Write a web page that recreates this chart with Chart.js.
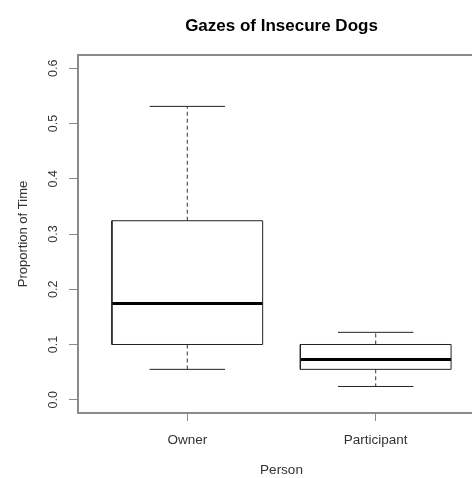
<!DOCTYPE html>
<html>
<head>
<meta charset="utf-8">
<script src="https://cdn.jsdelivr.net/npm/chart.js@4.4.1/dist/chart.umd.min.js"></script>
<style>
  body { margin: 0; background: #fff; }
  #wrap { width: 472px; height: 478px; overflow: hidden; }
  #inner { width: 563px; height: 478px; }
</style>
</head>
<body>
<div id="wrap"><div id="inner"><canvas id="chart"></canvas></div></div>
<script>
// box plot stats
var categories = ['Owner', 'Participant'];
var lowerWhisker = [0.055, 0.024];
var lowerQuartile = [0.100, 0.055];
var medians = [0.174, 0.073];
var upperQuartile = [0.324, 0.100];
var upperWhisker = [0.531, 0.122];
var yTicks = [0, 0.1, 0.2, 0.3, 0.4, 0.5, 0.6];

var boxHalf = 0.4;
var capHalf = 0.2;

function buildPoints() {
  var box = [], med = [], whisk = [], caps = [];
  for (var i = 0; i < categories.length; i++) {
    var x = i + 1;
    box.push({x: x - boxHalf, y: lowerQuartile[i]}, {x: x + boxHalf, y: lowerQuartile[i]},
             {x: x + boxHalf, y: upperQuartile[i]}, {x: x - boxHalf, y: upperQuartile[i]},
             {x: x - boxHalf, y: lowerQuartile[i]}, {x: x, y: null});
    med.push({x: x - boxHalf, y: medians[i]}, {x: x + boxHalf, y: medians[i]}, {x: x, y: null});
    whisk.push({x: x, y: upperQuartile[i]}, {x: x, y: upperWhisker[i]}, {x: x, y: null},
               {x: x, y: lowerQuartile[i]}, {x: x, y: lowerWhisker[i]}, {x: x, y: null});
    caps.push({x: x - capHalf, y: upperWhisker[i]}, {x: x + capHalf, y: upperWhisker[i]}, {x: x, y: null},
              {x: x - capHalf, y: lowerWhisker[i]}, {x: x + capHalf, y: lowerWhisker[i]}, {x: x, y: null});
  }
  return {box: box, med: med, whisk: whisk, caps: caps};
}

var pts = buildPoints();

// frame around plot region like R's bty="o"
var framePlugin = {
  id: 'frame',
  afterDraw: function(chart) {
    var a = chart.chartArea, ctx = chart.ctx;
    ctx.save();
    ctx.strokeStyle = '#8a8a8a';
    ctx.lineWidth = 2;
    ctx.strokeRect(a.left, a.top, a.right - a.left, a.bottom - a.top);
    ctx.restore();
  }
};

var lineDefaults = {showLine: true, pointRadius: 0, spanGaps: false, fill: false};
var font = 'Liberation Sans, Arial';

new Chart(document.getElementById('chart'), {
  type: 'scatter',
  data: {
    datasets: [
      Object.assign({data: pts.whisk, borderColor: '#333', borderWidth: 1, borderDash: [4, 3]}, lineDefaults),
      Object.assign({data: pts.caps, borderColor: '#222', borderWidth: 1}, lineDefaults),
      Object.assign({data: pts.box, borderColor: '#222', borderWidth: 1}, lineDefaults),
      Object.assign({data: pts.med, borderColor: '#000', borderWidth: 3}, lineDefaults)
    ]
  },
  options: {
    responsive: true,
    maintainAspectRatio: false,
    animation: false,
    layout: {padding: 0},
    plugins: {
      legend: {display: false},
      tooltip: {enabled: false},
      title: {
        display: true,
        text: 'Gazes of Insecure Dogs',
        color: '#000',
        font: {family: font, size: 17, weight: 'bold'},
        padding: {top: 16, bottom: 18.6}
      }
    },
    scales: {
      x: {
        type: 'linear',
        min: 0.42,
        max: 2.58,
        afterBuildTicks: function(s) { s.ticks = categories.map(function(c, i) { return {value: i + 1}; }); },
        afterFit: function(s) { s.height = 65; },
        border: {display: false},
        grid: {drawOnChartArea: false, drawTicks: true, tickLength: 8, color: '#8a8a8a', lineWidth: 1},
        ticks: {
          padding: 11,
          color: '#333',
          font: {family: font, size: 13.5},
          callback: function(v) { return categories[v - 1]; }
        },
        title: {
          display: true,
          text: 'Person',
          color: '#333',
          font: {family: font, size: 13.5},
          padding: {top: 0, bottom: 0}
        }
      },
      y: {
        min: -0.024,
        max: 0.624,
        afterBuildTicks: function(s) { s.ticks = yTicks.map(function(v) { return {value: v}; }); },
        afterFit: function(s) { s.width = 78; },
        border: {display: false},
        grid: {drawOnChartArea: false, drawTicks: true, tickLength: 9, color: '#8a8a8a', lineWidth: 1},
        ticks: {
          minRotation: 90,
          maxRotation: 90,
          crossAlign: 'center',
          padding: 7,
          color: '#333',
          font: {family: font, size: 12.5},
          callback: function(v) { return v.toFixed(1); }
        },
        title: {
          display: true,
          text: 'Proportion of Time',
          color: '#333',
          font: {family: font, size: 13},
          padding: {top: 16, bottom: 0}
        }
      },
      // empty right margin so the title centres over the plot like R does
      yRight: {
        position: 'right',
        display: true,
        afterFit: function(s) { s.width = 78; },
        border: {display: false},
        grid: {display: false},
        ticks: {display: false}
      }
    }
  },
  plugins: [framePlugin]
});
</script>
</body>
</html>
